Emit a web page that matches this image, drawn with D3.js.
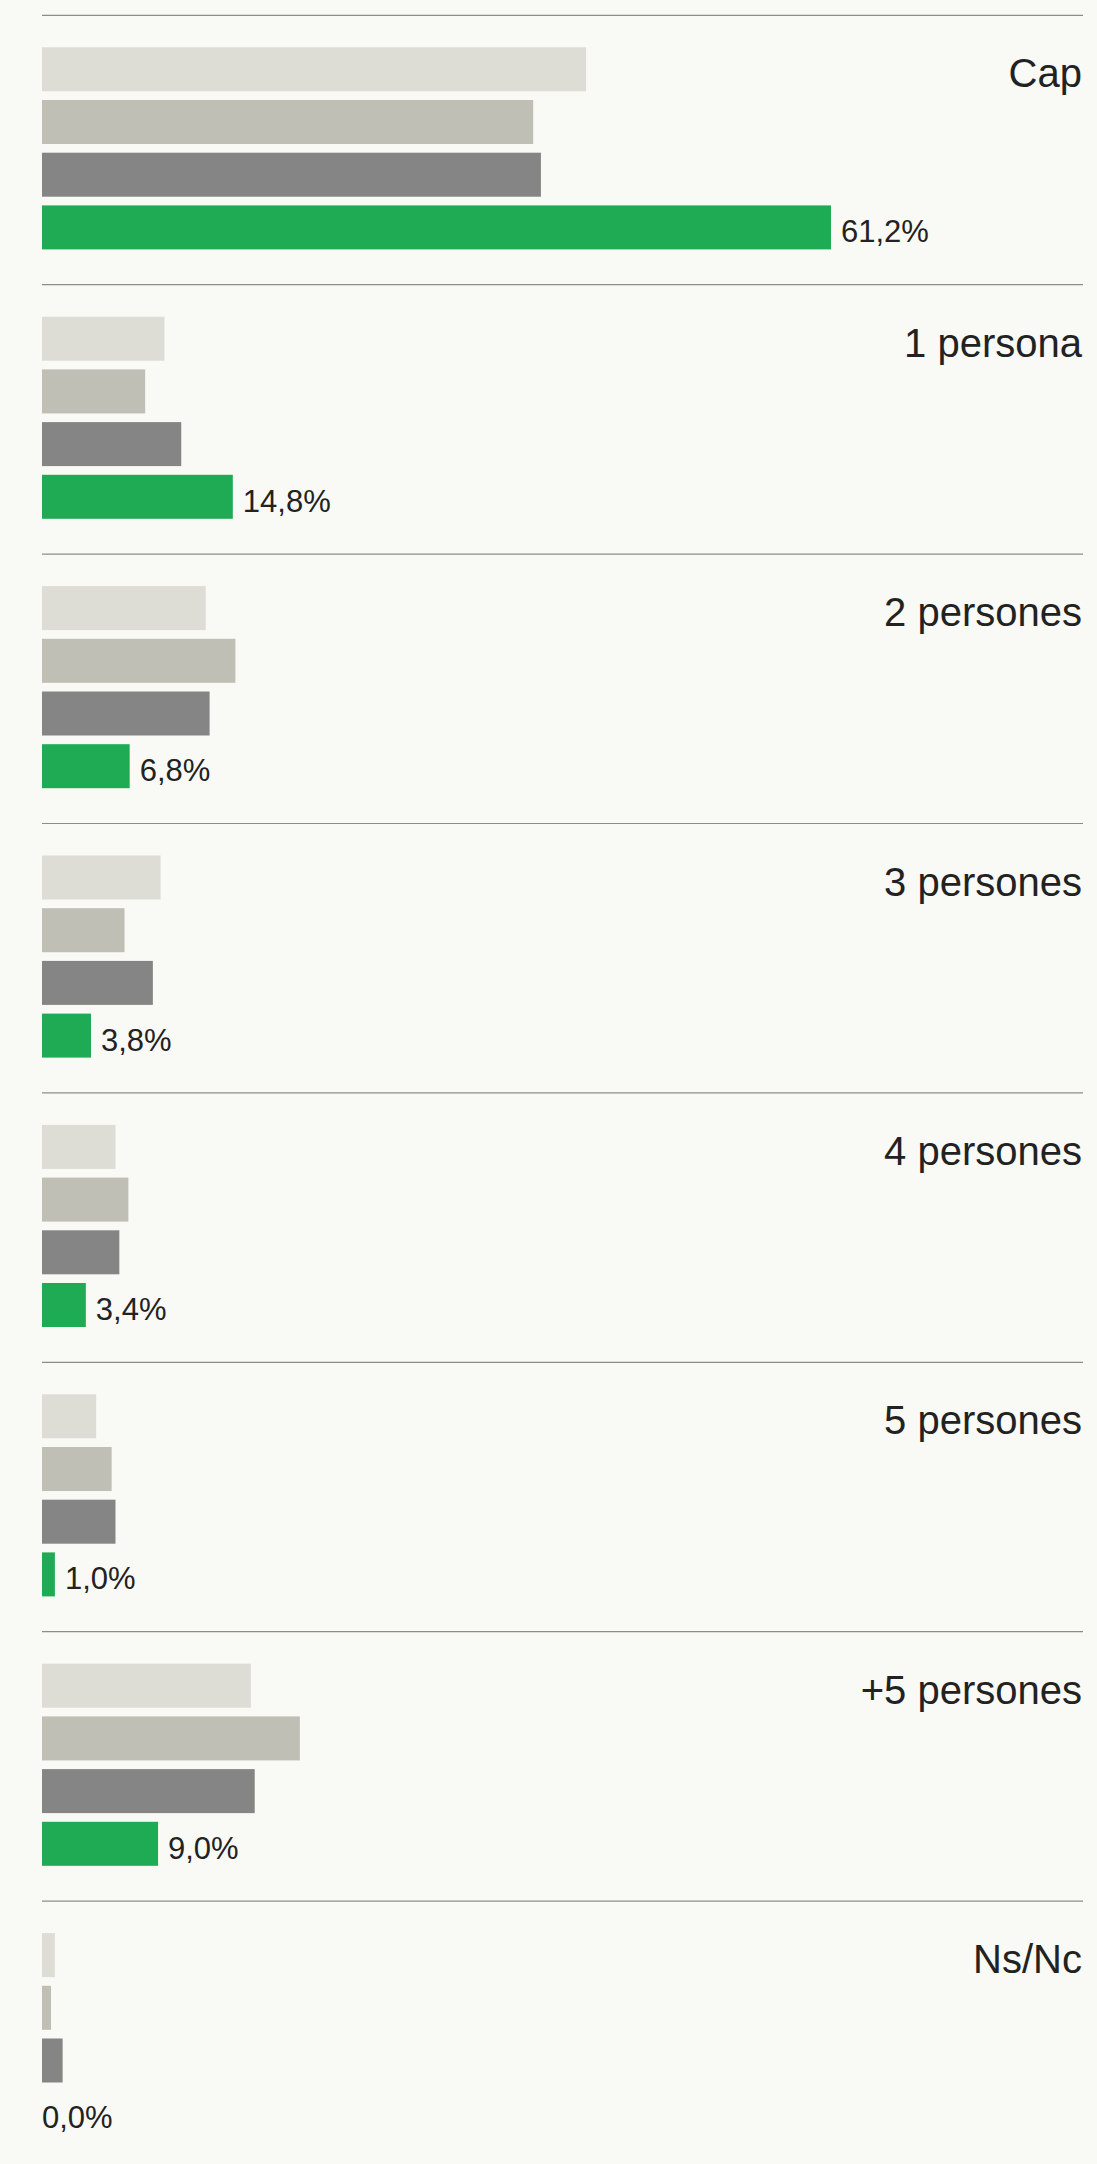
<!DOCTYPE html>
<html>
<head>
<meta charset="UTF-8" />
<title>Persones</title>
<script src="https://cdn.jsdelivr.net/npm/d3@7"></script>
<style>
body{margin:0;background:#f9f9f5;}
svg{display:block;}
text{font-family:"Liberation Sans",Arial,sans-serif;fill:#222;}
</style>
</head>
<body>
<div id="chart"></div>
<script>
var w=1097,h=2164;

// categories
var categories=['Cap','1 persona','2 persones','3 persones','4 persones','5 persones','+5 persones','Ns/Nc'];

// series (percent), top to bottom inside each block
var serieA=[42.2,9.5,12.7,9.2,5.7,4.2,16.2,1.0];
var serieB=[38.1,8.0,15.0,6.4,6.7,5.4,20.0,0.7];
var serieC=[38.7,10.8,13.0,8.6,6.0,5.7,16.5,1.6];
var serieD=[61.2,14.8,6.8,3.8,3.4,1.0,9.0,0.0];

var seriesNames=['A','B','C','D'];
var colors=['#dddcd5','#bfbfb6','#858585','#1fab53'];

var left=42,right=1083;
var top0=15.3,blockH=269.4;

var series=[serieA,serieB,serieC,serieD];
var maxv=d3.max(series,function(s){return d3.max(s);});

var x=d3.scaleLinear().domain([0,maxv]).range([left,831]);

var yBlock=d3.scaleBand()
  .domain(categories)
  .range([top0,top0+blockH*categories.length]);

var yBar=d3.scaleBand()
  .domain(seriesNames)
  .range([32,234.1])
  .paddingInner(0.165);

var fmt=function(v){return v.toFixed(1).replace('.',',')+'%';};

var svg=d3.select('#chart').append('svg')
  .attr('width',w)
  .attr('height',h);

var block=svg.selectAll('g.block')
  .data(categories)
  .enter()
  .append('g')
  .attr('class','block')
  .attr('transform',function(d){return 'translate(0,'+yBlock(d)+')';});

//separator line
block.append('line')
  .attr('x1',left).attr('x2',right)
  .attr('y1',0).attr('y2',0)
  .attr('stroke','#8c8c8c')
  .attr('stroke-width',1.2);

//category label
block.append('text')
  .attr('x',right-1)
  .attr('y',72)
  .attr('text-anchor','end')
  .style('font-size','40px')
  .text(function(d){return d;});

//bars
block.each(function(cat,i){
  var g=d3.select(this);
  var rows=seriesNames.map(function(n,j){return {name:n,v:series[j][i],c:colors[j]};});
  g.selectAll('rect')
    .data(rows)
    .enter()
    .append('rect')
    .attr('x',x(0))
    .attr('y',function(d){return yBar(d.name);})
    .attr('width',function(d){return x(d.v)-x(0);})
    .attr('height',yBar.bandwidth())
    .attr('fill',function(d){return d.c;});

  //value label on last series
  var last=rows[rows.length-1];
  g.append('text')
    .attr('x',last.v>0?x(last.v)+10:x(0))
    .attr('y',yBar(last.name)+yBar.bandwidth()-7)
    .style('font-size','31px')
    .text(fmt(last.v));
});
</script>
</body>
</html>
